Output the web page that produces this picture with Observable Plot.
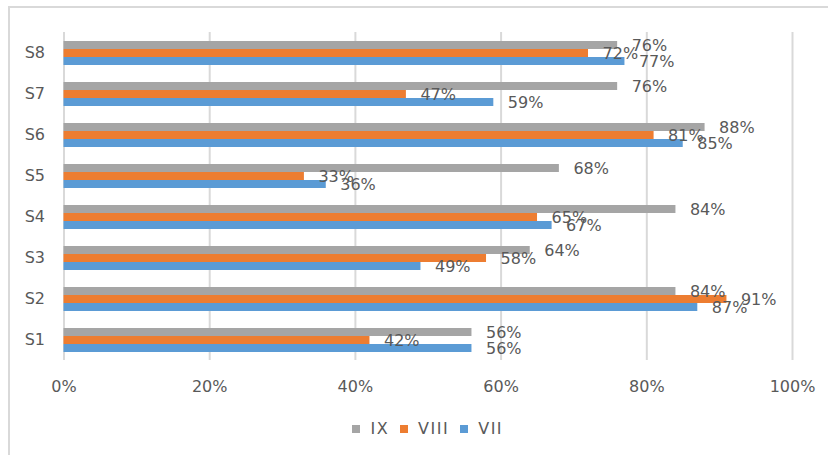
<!DOCTYPE html>
<html>
<head>
<meta charset="utf-8">
<script src="https://cdn.jsdelivr.net/npm/d3@7"></script>
<script src="https://cdn.jsdelivr.net/npm/@observablehq/plot@0.6"></script>
<style>
  html, body { margin: 0; padding: 0; background: #fff; overflow: hidden; }
  #wrap { position: relative; width: 828px; height: 455px; overflow: hidden; font-family: "DejaVu Sans", sans-serif; }
  #frame { position: absolute; left: 8px; top: 6px; width: 820px; height: 449px; border-top: 2px solid #d9d9d9; border-left: 2px solid #d9d9d9; box-sizing: border-box; }
  #chart { position: absolute; left: 0; top: 0; }
  #legend { position: absolute; left: 63.5px; width: 728.5px; top: 419px; display: flex; justify-content: center; align-items: center; gap: 11px; font-size: 16px; color: #595959; }
  .item { display: flex; align-items: center; gap: 10px; letter-spacing: 1.5px; }
  .sw { width: 8px; height: 8px; display: inline-block; }
</style>
</head>
<body>
<div id="wrap">
  <div id="frame"></div>
  <div id="chart"></div>
  <div id="legend"></div>
</div>
<script>
const categories = ["S1", "S2", "S3", "S4", "S5", "S6", "S7", "S8"];
const seriesNames = ["IX", "VIII", "VII"];
const ix   = [56, 84, 64, 84, 68, 88, 76, 76];
const viii = [42, 91, 58, 65, 33, 81, 47, 72];
const vii  = [56, 87, 49, 67, 36, 85, 59, 77];
const xTicks = [0, 20, 40, 60, 80, 100];
const colors = ["#a5a5a5", "#ed7d31", "#5b9bd5"];

const seriesValues = [ix, viii, vii];
const rows = [];
categories.forEach((c, i) => {
  seriesNames.forEach((s, j) => rows.push({cat: c, series: s, value: seriesValues[j][i]}));
});

const chart = Plot.plot({
  width: 828,
  height: 400,
  marginLeft: 63.5,
  marginRight: 36,
  marginTop: 30,
  marginBottom: 38,
  style: {fontFamily: "'DejaVu Sans', sans-serif", fontSize: "16px", color: "#595959", background: "transparent", overflow: "visible"},
  x: {domain: [0, 100], axis: null},
  y: {domain: seriesNames, axis: null, paddingInner: 0, paddingOuter: 0.99},
  fy: {domain: [...categories].reverse(), padding: 0, axis: null},
  color: {domain: seriesNames, range: colors},
  marks: [
    Plot.gridX(xTicks, {stroke: "#d9d9d9", strokeOpacity: 1, strokeWidth: 2}),
    Plot.barX(rows, {x: "value", y: "series", fy: "cat", fill: "series"}),
    Plot.text(rows, {x: "value", y: "series", fy: "cat", text: d => d.value + "%", dx: 14, textAnchor: "start", fill: "#595959"}),
    Plot.axisFy({anchor: "left", tickSize: 0, tickPadding: 19, label: null}),
    Plot.axisX({ticks: xTicks, tickFormat: d => d + "%", tickSize: 0, tickPadding: 20, label: null})
  ]
});
document.getElementById("chart").appendChild(chart);

const legend = document.getElementById("legend");
seriesNames.forEach((s, j) => {
  const it = document.createElement("div");
  it.className = "item";
  const sw = document.createElement("span");
  sw.className = "sw";
  sw.style.background = colors[j];
  const tx = document.createElement("span");
  tx.textContent = s;
  it.appendChild(sw);
  it.appendChild(tx);
  legend.appendChild(it);
});
</script>
</body>
</html>
